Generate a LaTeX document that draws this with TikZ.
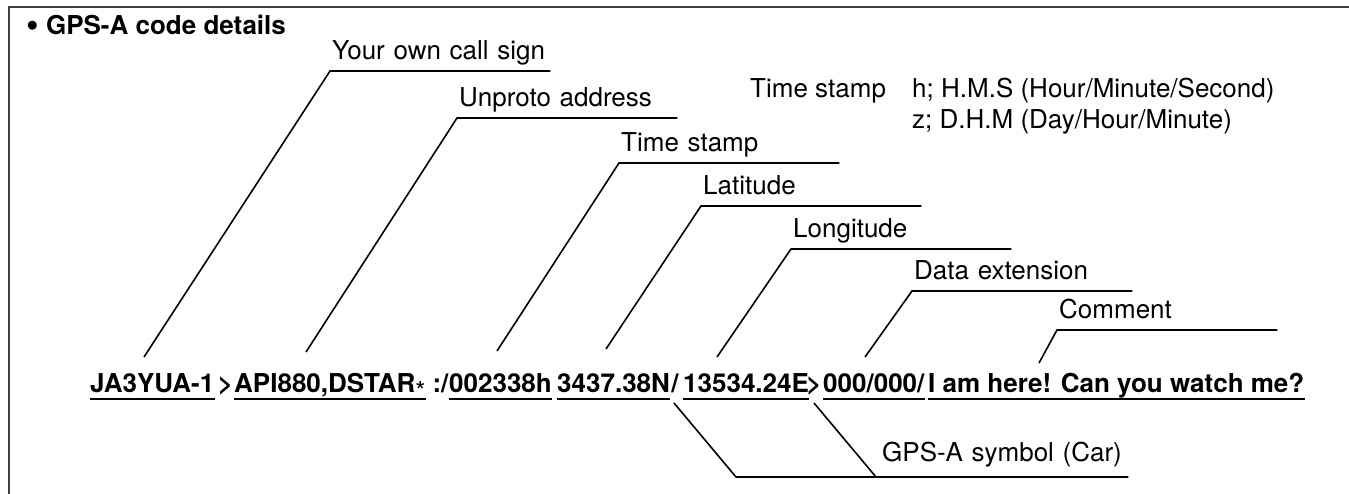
\documentclass[tikz,border=0pt]{standalone}
\usepackage{fontspec}
\setmainfont{TeX Gyre Heros}
\usetikzlibrary{positioning}

\begin{document}
\begin{tikzpicture}[
    x=1pt, y=-1pt,
    font=\fontsize{26}{31}\selectfont,
    field/.style={anchor=base west, inner sep=0pt, font=\fontsize{26}{31}\selectfont\bfseries},
    sepchar/.style={anchor=base, inner sep=0pt, font=\fontsize{26}{31}\selectfont\bfseries},
    lbl/.style={anchor=south west, text width=216pt, inner xsep=2pt,
        inner ysep=11pt, text depth=0pt, align=left},
    txt/.style={anchor=base west, inner sep=0pt},
    lead/.style={line width=1.6pt},
    uline/.style={line width=2.4pt},
    frame/.style={line width=1.6pt, black!75}
]
\useasboundingbox (0,0) rectangle (1349,494);

% ============================================================
% RAMKA I TYTUL
% ============================================================
\draw[frame] (9,494) -- (9,7) -- (1349,7);
\node[txt, font=\fontsize{26}{31}\selectfont\bfseries] (title) at (26,35)
    {{\fontsize{36}{31}\selectfont\raisebox{-2pt}{\textbullet}}\ GPS-A code details};

% ============================================================
% KOD GPS-A
% ============================================================
\node[field] (callsign) at (90,392) {JA3YUA-1};
\node[sepchar] (sepa) at (225.5,392) {>};
\node[field] (unproto) at (234,392) {API880,DSTAR{\mdseries\raisebox{-8pt}{*}}};
\node[sepchar] (sepb) at (440.5,392) {:/};
\node[field] (tstamp) at (449,392) {002338h};
\node[field] (lat) at (557,392) {3437.38N};
\node[sepchar] (symsl) at (675,392) {/};
\node[field] (lon) at (683,392) {13534.24E};
\node[sepchar] (symgt) at (814,392) {>};
\node[field] (ext) at (823,392) {000/000/};
\node[field] (comment) at (928,392) {I am here! Can you watch me?};

\foreach \f in {callsign,unproto,tstamp,lat,lon,ext,comment}
    \draw[uline] ([yshift=-7pt]\f.base west) -- ([yshift=-7pt]\f.base east);

% ============================================================
% OPISY POL
% ============================================================
\node[lbl] (ownlbl) at (330,71) {Your own call sign};
\node[lbl] (unprotolbl) at (457,118) {Unproto address};
\node[lbl] (tstamplbl) at (619,163) {Time stamp};
\node[lbl] (latlbl) at (701,206) {Latitude};
\node[lbl] (lonlbl) at (791,249) {Longitude};
\node[lbl] (extlbl) at (912,291) {Data extension};
\node[lbl] (commentlbl) at (1057,330) {Comment};

\draw[lead] ([shift={(54pt,35pt)}]callsign.base west) -- (ownlbl.south west) -- (ownlbl.south east);
\draw[lead] ([shift={(72pt,40pt)}]unproto.base west) -- (unprotolbl.south west) -- (unprotolbl.south east);
\draw[lead] ([shift={(48pt,41pt)}]tstamp.base west) -- (tstamplbl.south west) -- (tstamplbl.south east);
\draw[lead] ([shift={(49pt,43pt)}]lat.base west) -- (latlbl.south west) -- (latlbl.south east);
\draw[lead] ([shift={(34pt,35pt)}]lon.base west) -- (lonlbl.south west) -- (lonlbl.south east);
\draw[lead] ([shift={(42pt,35pt)}]ext.base west) -- (extlbl.south west) -- (extlbl.south east);
\draw[lead] ([shift={(111pt,29pt)}]comment.base west) -- (commentlbl.south west) -- (commentlbl.south east);

% symbol GPS-A
\node[lbl, text width=240pt, inner xsep=6pt, inner ysep=15pt] (symlbl) at (876,477) {GPS-A symbol (Car)};
\coordinate (symfoot) at (736,477);
\draw[lead] ([shift={(-1pt,-11pt)}]symsl.base) -- (symfoot) -- (symlbl.south east);
\draw[lead] ([yshift=-11pt]symgt.base) -- (symlbl.south west);

% ============================================================
% FORMAT ZNACZNIKA CZASU
% ============================================================
\node[txt] (tsnote) at (750,98) {Time stamp};
\node[txt] (tsh) at (912,98) {h; H.M.S (Hour/Minute/Second)};
\node[txt] (tsz) at ([yshift=-31pt]tsh.base west) {z; D.H.M (Day/Hour/Minute)};

\end{tikzpicture}
\end{document}
